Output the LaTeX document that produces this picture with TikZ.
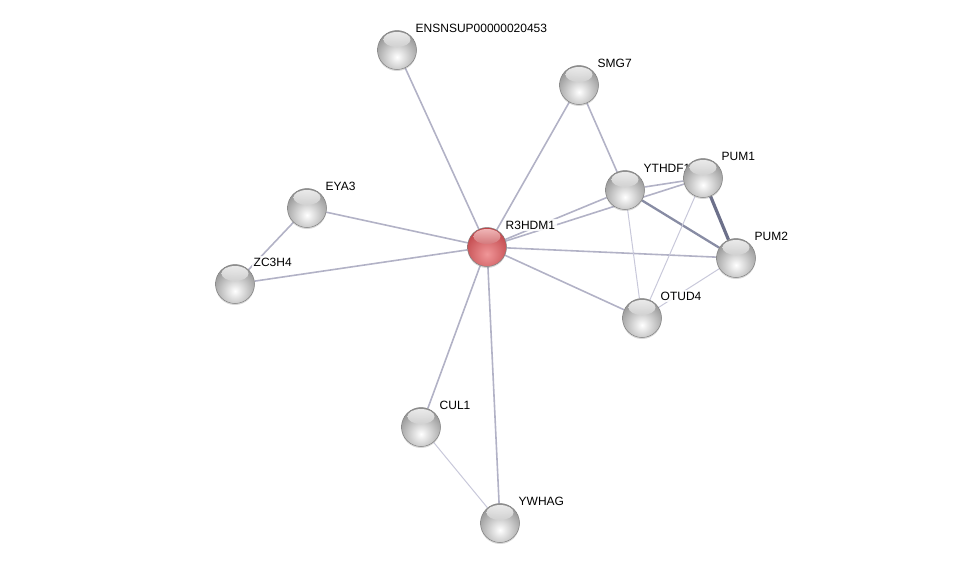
\documentclass[tikz,border=0pt]{standalone}
\usepackage{fontspec}
\setmainfont{Liberation Sans}
\usetikzlibrary{backgrounds,shadows}
\definecolor{edgegray}{RGB}{178,178,198}
\definecolor{edgelight}{RGB}{200,200,218}
\definecolor{edgedark}{RGB}{136,140,164}
\definecolor{edgedarker}{RGB}{108,112,138}
\definecolor{redball}{RGB}{190,66,70}
\definecolor{redlight}{RGB}{240,150,152}
\begin{document}
\begin{tikzpicture}[
    x=1pt, y=-1pt,
    every node/.style={font=\fontsize{12}{14}\selectfont},
    lbl/.style={fill=white, fill opacity=0.85, text opacity=1, inner sep=1.5pt, xshift=3pt, yshift=2pt},
    ball/.style={circle, minimum size=39pt, inner sep=0pt, draw=black!50, line width=0.5pt,
        drop shadow={shadow xshift=0pt, shadow yshift=-1.5pt, opacity=0.3},
        label distance=3pt,
        path picture={
            \shade[inner color=white, outer color=black!45] ([yshift=-7pt]path picture bounding box.center) circle (27pt);
            \shade[top color=white, bottom color=black!18, opacity=0.8] ([yshift=-9pt]path picture bounding box.north) ellipse (13.5pt and 7.5pt);
        }},
    hub/.style={ball,
        path picture={
            \shade[inner color=redlight, outer color=redball] ([yshift=-7pt]path picture bounding box.center) circle (27pt);
            \shade[top color=red!15!white, bottom color=redball!70!white, opacity=0.75] ([yshift=-9pt]path picture bounding box.north) ellipse (13.5pt and 7.5pt);
        }},
    link/.style={line width=1.6pt, edgegray},
    weak/.style={line width=1pt, edgelight},
    strong/.style={line width=2.3pt, edgedark},
    stronger/.style={line width=3.2pt, edgedarker}
]
\useasboundingbox (0,0) rectangle (976,568);

\node[ball] (ens)  at (397,50)  [label={[lbl]45:ENSNSUP00000020453}] {};
\node[ball] (smg)  at (579,85)  [label={[lbl]45:SMG7}] {};
\node[ball] (eya)  at (307,208) [label={[lbl]45:EYA3}] {};
\node[ball] (zc)   at (235,284) [label={[lbl]45:ZC3H4}] {};
\node[ball] (yth)  at (625,190) [label={[lbl]45:YTHDF1}] {};
\node[ball] (pum1) at (703,178) [label={[lbl]45:PUM1}] {};
\node[ball] (pum2) at (736,258) [label={[lbl]45:PUM2}] {};
\node[ball] (otud) at (642,318) [label={[lbl]45:OTUD4}] {};
\node[ball] (cul)  at (421,427) [label={[lbl]45:CUL1}] {};
\node[ball] (ywh)  at (500,523) [label={[lbl]45:YWHAG}] {};
\node[hub]  (r3)   at (487,247) [label={[lbl]45:R3HDM1}] {};

\begin{scope}[on background layer]
\draw[link] (r3) -- (ens);
\draw[link] (r3) -- (smg);
\draw[link] (r3) -- (yth);
\draw[link] (r3) -- (pum1);
\draw[link] (r3) -- (pum2);
\draw[link] (r3) -- (otud);
\draw[link] (r3) -- (eya);
\draw[link] (r3) -- (zc);
\draw[link] (r3) -- (cul);
\draw[link] (r3) -- (ywh);
\draw[link] (eya) -- (zc);
\draw[link] (smg) -- (yth);
\draw[link] (yth) -- (pum1);
\draw[strong] (yth) -- (pum2);
\draw[weak] (yth) -- (otud);
\draw[stronger] (pum1) -- (pum2);
\draw[weak] (pum1) -- (otud);
\draw[weak] (pum2) -- (otud);
\draw[weak] (cul) -- (ywh);
\end{scope}
\end{tikzpicture}
\end{document}
